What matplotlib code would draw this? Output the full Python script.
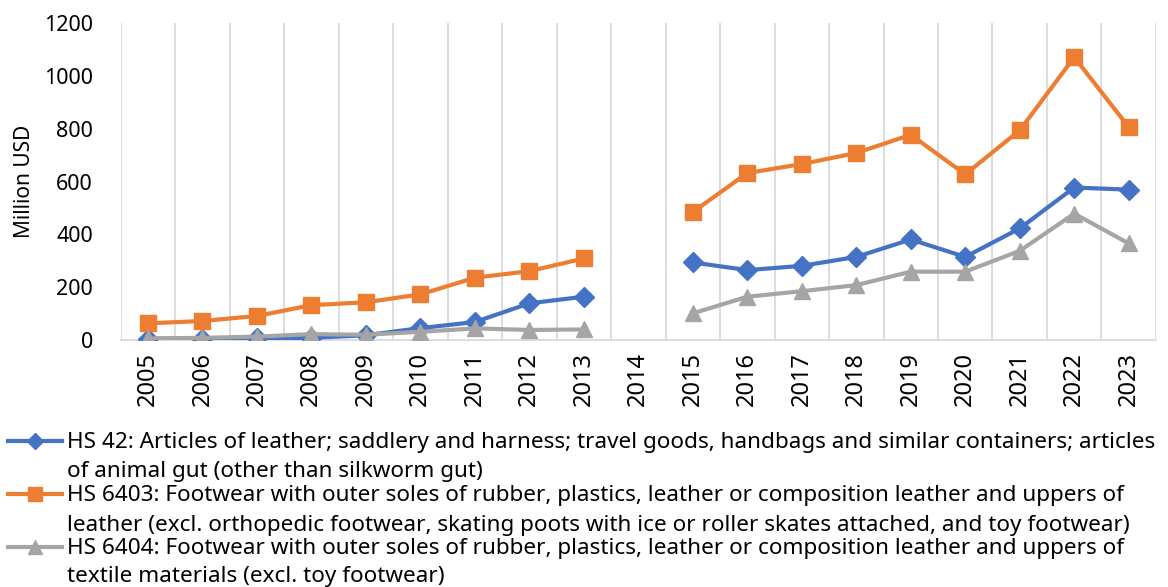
import numpy as np
import matplotlib
matplotlib.use("Agg")
import matplotlib.pyplot as plt
from matplotlib.lines import Line2D

plt.rcParams['font.family'] = ['Noto Sans', 'DejaVu Sans']

years = ['2005', '2006', '2007', '2008', '2009', '2010', '2011', '2012', '2013', '2014',
         '2015', '2016', '2017', '2018', '2019', '2020', '2021', '2022', '2023']
nan = np.nan
hs42 = [5, 5, 6, 8, 18, 45, 68, 139, 164, nan,
        294, 265, 281, 315, 381, 315, 423, 578, 570]
hs6403 = [63, 72, 91, 132, 143, 173, 236, 261, 309, nan,
          485, 633, 667, 709, 778, 628, 795, 1072, 807]
hs6404 = [6, 8, 13, 22, 20, 31, 44, 38, 40, nan,
          101, 164, 185, 208, 259, 259, 338, 479, 366]

labels = [
    ["HS 42: Articles of leather; saddlery and harness; travel goods, handbags and similar containers; articles",
     "of animal gut (other than silkworm gut)"],
    ["HS 6403: Footwear with outer soles of rubber, plastics, leather or composition leather and uppers of",
     "leather (excl. orthopedic footwear, skating poots with ice or roller skates attached, and toy footwear)"],
    ["HS 6404: Footwear with outer soles of rubber, plastics, leather or composition leather and uppers of",
     "textile materials (excl. toy footwear)"],
]
colors = ['#4472C4', '#ED7D31', '#A5A5A5']
markers = ['D', 's', '^']
msizes = [10.5, 12, 12]
leg_msizes = [8, 9.5, 9.5]

fig = plt.figure(figsize=(11.68, 5.87), dpi=100)
ax = fig.add_axes([0.1033, 0.4208, 0.8864, 0.5392])

x = np.arange(len(years))
for vals, c, m, ms in zip([hs42, hs6403, hs6404], colors, markers, msizes):
    ax.plot(x, vals, color=c, lw=3, marker=m, markersize=ms, zorder=3)

ax.set_xlim(-0.5, len(years) - 0.5)
ax.set_ylim(0, 1200)
ax.set_yticks(np.arange(0, 1201, 200))
ax.set_xticks(x)
ax.set_xticklabels(years, rotation=90)
ax.tick_params(axis='both', length=0)
ax.tick_params(axis='x', pad=9, labelsize=17)
ax.tick_params(axis='y', pad=20, labelsize=15.5)
ax.set_xticks(np.arange(-0.5, len(years)), minor=True)
ax.tick_params(axis='x', which='minor', length=0)
ax.grid(axis='x', which='minor', color='#D9D9D9', lw=1.3)
for s in ['top', 'right', 'left']:
    ax.spines[s].set_visible(False)
ax.spines['bottom'].set_color('#D9D9D9')
ax.spines['bottom'].set_linewidth(1.3)
ax.set_ylabel("Million USD", fontsize=15)
ax.yaxis.set_label_coords(-0.083, 0.5)

# legend below the axes, handle level with the first text line
W, H = 1168, 587
handle_y = [441, 494, 547]
baselines = [[448, 477], [501, 531], [554, 582]]
for lines, c, m, ms, hy, bl in zip(labels, colors, markers, leg_msizes, handle_y, baselines):
    fy = 1 - hy / H
    fig.add_artist(Line2D([8 / W, 62 / W], [fy, fy], color=c, lw=3))
    fig.add_artist(Line2D([35 / W], [fy], color=c, marker=m, markersize=ms))
    for txt, b in zip(lines, bl):
        fig.text(67 / W, 1 - b / H, txt, fontsize=16.2, va='baseline', ha='left')

fig.savefig("out.png", dpi=100)
